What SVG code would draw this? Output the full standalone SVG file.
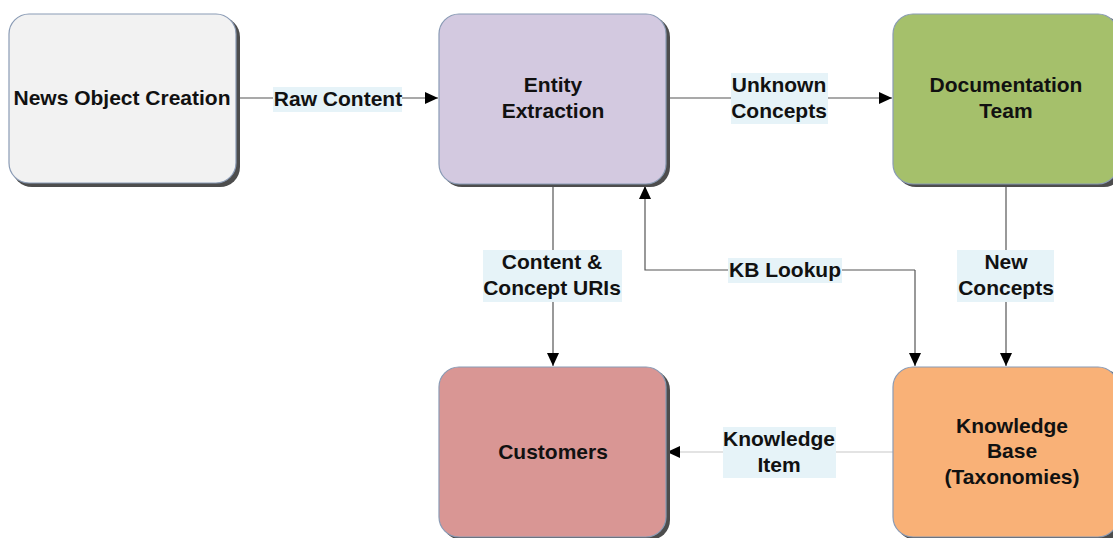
<svg xmlns="http://www.w3.org/2000/svg" width="1113" height="538" viewBox="0 0 1113 538">
<style>
.shadow{fill:#4d4d4d}
.box{stroke:#8a9bb5;stroke-width:1.2}
.t{font-family:"Liberation Sans",Arial,sans-serif;font-weight:bold;font-size:21px;fill:#111;text-anchor:middle}
.e{fill:none;stroke:#555;stroke-width:1.2}
.lbl{fill:#e6f3f8}
</style>
<defs>
<marker id="ah" markerWidth="14" markerHeight="12" refX="13" refY="6" orient="auto" markerUnits="userSpaceOnUse">
<path d="M0,0 L13,6 L0,12 Z" fill="#000"/>
</marker>
</defs>
<rect width="1113" height="538" fill="#fff"/>
<g id="connectors">
<path class="e" d="M236,98 H438" marker-end="url(#ah)"/>
<rect class="lbl" x="273" y="87" width="129" height="25"/>
<text class="t" x="338" y="106">Raw Content</text>

<path class="e" d="M666,98 H892" marker-end="url(#ah)"/>
<rect class="lbl" x="731" y="73" width="97" height="51"/>
<text class="t" x="779" y="92">Unknown</text>
<text class="t" x="779" y="118">Concepts</text>

<path class="e" d="M553,185 V366" marker-end="url(#ah)"/>
<rect class="lbl" x="483" y="250" width="139" height="52"/>
<text class="t" x="552" y="269">Content &amp;</text>
<text class="t" x="552" y="295">Concept URIs</text>

<path class="e" d="M915,270 H645 V186" marker-end="url(#ah)"/>
<path class="e" d="M915,270 V366" marker-end="url(#ah)"/>
<rect class="lbl" x="728" y="258" width="114" height="25"/>
<text class="t" x="785" y="277">KB Lookup</text>

<path class="e" d="M1006,185 V366" marker-end="url(#ah)"/>
<rect class="lbl" x="957" y="250" width="97" height="52"/>
<text class="t" x="1006" y="269">New</text>
<text class="t" x="1006" y="295">Concepts</text>

<path class="e" d="M893,452 H667" style="stroke:#c8c8c8" marker-end="url(#ah)"/>
<rect class="lbl" x="723" y="427" width="113" height="51"/>
<text class="t" x="779" y="446">Knowledge</text>
<text class="t" x="779" y="472">Item</text>
</g>
<g id="news">
<rect class="shadow" x="12" y="17" width="228" height="170" rx="20"/>
<rect class="box" x="9" y="14" width="227" height="169" rx="20" fill="#f2f2f2"/>
<text class="t" x="122" y="105">News Object Creation</text>
</g>
<g id="entity">
<rect class="shadow" x="442" y="17" width="228" height="170" rx="20"/>
<rect class="box" x="439" y="14" width="227" height="170" rx="20" fill="#d3c9e0"/>
<text class="t" x="553" y="92">Entity</text>
<text class="t" x="553" y="118">Extraction</text>
</g>
<g id="doc">
<rect class="shadow" x="896" y="17" width="228" height="170" rx="20"/>
<rect class="box" x="893" y="14" width="225" height="170" rx="20" fill="#a5c06b"/>
<text class="t" x="1006" y="92">Documentation</text>
<text class="t" x="1006" y="118">Team</text>
</g>
<g id="customers">
<rect class="shadow" x="442" y="370" width="228" height="170" rx="20"/>
<rect class="box" x="439" y="367" width="227" height="170" rx="20" fill="#d99694"/>
<text class="t" x="553" y="459">Customers</text>
</g>
<g id="kb">
<rect class="shadow" x="896" y="370" width="228" height="170" rx="20"/>
<rect class="box" x="893" y="367" width="225" height="170" rx="20" fill="#f9b177"/>
<text class="t" x="1012" y="433">Knowledge</text>
<text class="t" x="1012" y="458">Base</text>
<text class="t" x="1012" y="484">(Taxonomies)</text>
</g>
</svg>
